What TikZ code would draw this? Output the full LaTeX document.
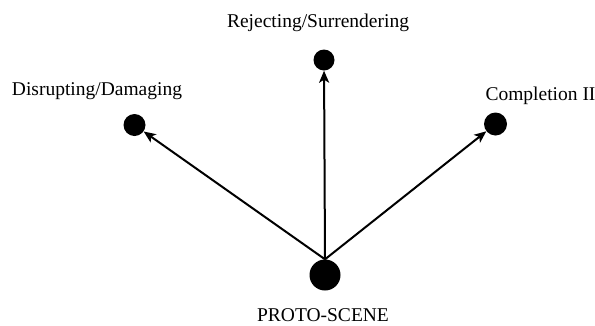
\documentclass[tikz,border=0pt]{standalone}
\usepackage{fontspec}
\setmainfont{Liberation Serif}
\usetikzlibrary{arrows.meta}
\begin{document}
\begin{tikzpicture}[x=1pt,y=-1pt,
  dot/.style={circle,fill=black,inner sep=0pt,minimum size=#1},
  lbl/.style={anchor=base,inner sep=0pt,font=\fontsize{19.5}{22}\selectfont},
  link/.style={line width=2pt,-{Stealth[length=12pt,width=10pt,inset=3pt]}}]
  \useasboundingbox (0,0) rectangle (595,325);
  % scene nodes
  \node[dot=31pt] (proto) at (325,275) {};
  \node[dot=22pt] (left)  at (134.5,125) {};
  \node[dot=21pt] (top)   at (324,60) {};
  \node[dot=23pt] (right) at (495.5,124) {};
  % labels
  \node[lbl] (lproto) at (323,321) {PROTO-SCENE};
  \node[lbl] (lleft)  at (97,95)   {Disrupting/Damaging};
  \node[lbl] (ltop)   at (318,27)  {Rejecting/Surrendering};
  \node[lbl] (lright) at (540.5,100) {Completion II};
  % connectors
  \draw[link] (proto.north) -- (left);
  \draw[link] (proto.north) -- (top);
  \draw[link] (proto.north) -- (right);
\end{tikzpicture}
\end{document}
